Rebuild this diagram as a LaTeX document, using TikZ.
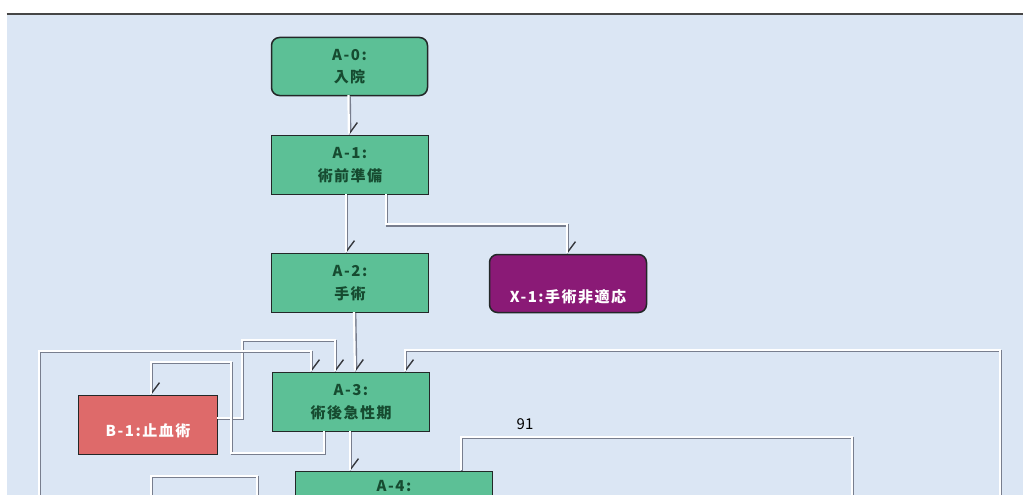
\documentclass[tikz,border=0pt]{standalone}
\usepackage{fontspec}
\setmainfont{Noto Sans CJK JP}[LetterSpace=10]
\newfontfamily\plainfont{Noto Sans CJK JP}
\usetikzlibrary{arrows.meta}
\definecolor{bg}{RGB}{219,230,244}
\definecolor{teal}{RGB}{92,192,150}
\definecolor{tealtext}{RGB}{22,75,48}
\definecolor{purp}{RGB}{138,26,118}
\definecolor{salmon}{RGB}{222,106,106}
\definecolor{edge}{RGB}{35,40,40}
\definecolor{linegray}{RGB}{120,126,142}
\definecolor{tickgray}{RGB}{55,57,62}
\definecolor{topgray}{RGB}{70,70,70}
\tikzset{
  box/.style={draw=edge, line width=1.5pt, inner sep=0pt, align=center,
    font=\bfseries\fontsize{15}{22.5}\selectfont},
  greenbox/.style={box, fill=teal, text=tealtext},
  conn/.style={draw=linegray, line width=2.8pt,
    postaction={draw=white, -, line width=2.2pt, transform canvas={shift={(-1.1pt,1.1pt)}}}},
  arr/.style={-{Straight Barb[harpoon, length=10pt, width=15pt, line width=1.4pt, color=tickgray]}},
}
\begin{document}
\begin{tikzpicture}[x=1pt,y=-1pt]
\useasboundingbox (0,0) rectangle (1023,495);
\clip (0,0) rectangle (1023,495);
\fill[white] (0,0) rectangle (1023,495);
\fill[bg] (6.5,15) rectangle (1023,495);
\draw[topgray, line width=2pt] (6.5,14) -- (1023,14);

% nodes
\node[greenbox, rounded corners=8pt, minimum width=156pt, minimum height=58pt] (a0) at (349.5,66.5) {A-0:\\入院};
\node[greenbox, minimum width=157pt, minimum height=59pt] (a1) at (350,165) {A-1:\\術前準備};
\node[greenbox, minimum width=157pt, minimum height=59pt] (a2) at (350,283) {A-2:\\手術};
\node[box, fill=purp, text=white, rounded corners=8pt, minimum width=157pt, minimum height=58pt,
      text height=40pt, text depth=2pt] (x1) at (568,283.5) {X-1:手術非適応};
\node[greenbox, minimum width=157pt, minimum height=59pt] (a3) at (351,402) {A-3:\\術後急性期};
\node[box, fill=salmon, text=white, minimum width=139pt, minimum height=59pt,
      text height=25pt, text depth=2pt] (b1) at (148,425) {B-1:止血術};
\node[greenbox, minimum width=197pt, minimum height=59pt] (a4) at (394,501) {A-4:\\\strut};
\node[font=\plainfont\fontsize{15}{17}\selectfont, text=black] (n91) at (525,424) {91};

% free ends
\coordinate (lbot) at (40,515);
\coordinate (rbot) at (1001,515);
\coordinate (mbot) at (853,515);
\coordinate (sb1) at (152,515);
\coordinate (sb2) at (258,515);

% connectors
\draw[conn, arr] (a0.south) -- (a1.north);
\draw[conn, arr] ([xshift=-3pt]a1.south) -- ([xshift=-3pt]a2.north);
\draw[conn, arr] ([xshift=37pt]a1.south) -- ++(0,30) -| (x1.north);
\draw[conn, arr] ([xshift=5pt]a2.south) -- ([xshift=5pt]a3.north);
\draw[conn, arr] (a3.south) -- (a3.south |- a4.north);
\draw[conn, arr] ([yshift=6pt]b1.east) -| (243,341) -| ([xshift=-15pt]a3.north);
\draw[conn, arr] ([xshift=-26pt]a3.south) |- (232,454) -- (232,363) -| ([xshift=4pt]b1.north);
\draw[conn, arr] (lbot) |- (100,352) -| ([xshift=-39pt]a3.north);
\draw[conn, arr] (rbot) |- (700,351) -| ([xshift=55pt]a3.north);
\draw[conn] ([xshift=68pt]a4.north) |- (700,438) -| (mbot);
\draw[conn] (sb1) |- (200,477) -| (sb2);
\end{tikzpicture}
\end{document}
